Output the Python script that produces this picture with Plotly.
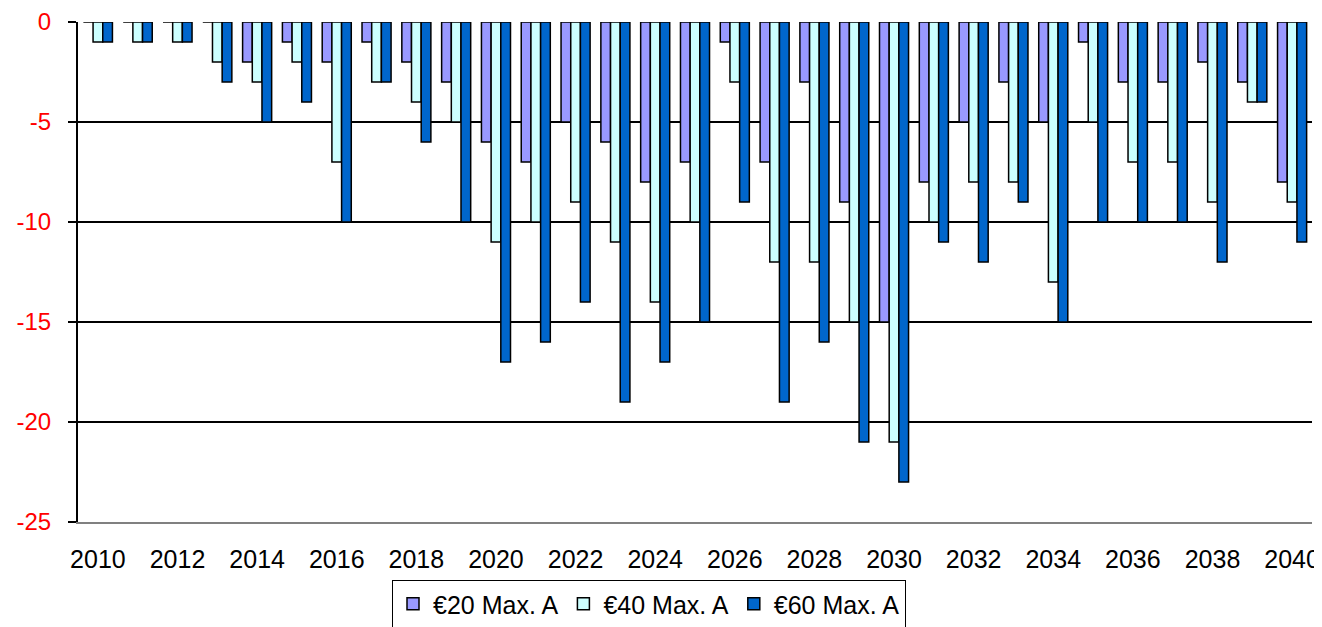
import plotly.graph_objects as go

years = list(range(2010, 2041))
s20 = [0, 0, 0, 0, -2, -1, -2, -1, -2, -3, -6, -7, -5, -6, -8, -7, -1, -7, -3, -9, -15,
       -8, -5, -3, -5, -1, -3, -3, -2, -3, -8]
s40 = [-1, -1, -1, -2, -3, -2, -7, -3, -4, -5, -11, -10, -9, -11, -14, -10, -3, -12, -12, -15, -21,
       -10, -8, -8, -13, -5, -7, -7, -9, -4, -9]
s60 = [-1, -1, -1, -3, -5, -4, -10, -3, -6, -10, -17, -16, -14, -19, -17, -15, -9, -19, -16, -21, -23,
       -11, -12, -9, -15, -10, -10, -10, -12, -4, -11]
names = ["€20 Max. A", "€40 Max. A", "€60 Max. A"]
colors = ["#9999FF", "#CCFFFF", "#0066CC"]
xlabels = [str(y) for y in range(2010, 2041, 2)]
yticks = [0, -5, -10, -15, -20, -25]

FONT = "Liberation Sans, Arial, sans-serif"
W, H = 1314, 619  # page body has an 8px margin

fig = go.Figure()
for name, vals, col in zip(names, [s20, s40, s60], colors):
    fig.add_trace(go.Bar(x=years, y=vals, name=name, marker=dict(color=col, line=dict(color="black", width=1.5))))

xr = [years[0] - 0.5, years[-1] + 0.5]
fig.update_layout(
    width=W, height=H,
    margin=dict(l=70, r=10, t=14, b=105, autoexpand=False),
    paper_bgcolor="white", plot_bgcolor="white",
    barmode="group", bargap=0.27, bargroupgap=0,
    font=dict(family=FONT, size=25, color="black"),
    xaxis=dict(range=xr, tickmode="array", tickvals=list(range(2010, 2041, 2)), ticktext=xlabels,
               showgrid=False, zeroline=False, showline=True, linecolor="#808080", linewidth=1.5,
               ticks="", ticklabelstandoff=14, automargin=False, tickfont=dict(size=25, color="black")),
    xaxis2=dict(overlaying="x", side="top", anchor="y", range=xr, type="linear",
                tickmode="array", tickvals=[y + 0.5 for y in range(2009, 2041)],
                ticks="inside", ticklen=8, tickwidth=1.5, tickcolor="black",
                showticklabels=False, showgrid=False, zeroline=False, automargin=False,
                showline=True, linecolor="black", linewidth=2),
    yaxis=dict(range=[-25, 0], tickmode="array", tickvals=yticks, ticktext=[str(v) for v in yticks],
               showgrid=True, gridcolor="black", gridwidth=1.5, zeroline=False,
               showline=True, linecolor="black", linewidth=2, automargin=False,
               ticks="outside", ticklen=8, tickwidth=1.5, tickcolor="black",
               ticklabelstandoff=12, tickfont=dict(size=24, color="red")),
    yaxis2=dict(overlaying="y", side="right", anchor="x", range=[-25, 0], automargin=False,
                showticklabels=False, ticks="", showgrid=False, zeroline=False,
                showline=True, linecolor="#808080", linewidth=1.5),
    showlegend=True,
    legend=dict(orientation="h", xref="container", yref="container",
                x=384 / W, xanchor="left", y=1 - 572 / H, yanchor="top",
                bordercolor="black", borderwidth=1, bgcolor="white",
                font=dict(size=25, color="black"), itemwidth=30, tracegroupgap=0),
)

fig.write_html("out.html")
